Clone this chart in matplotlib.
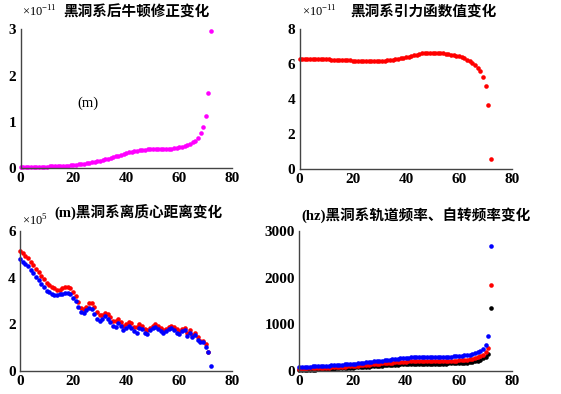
import numpy as np
import matplotlib
matplotlib.use("Agg")
import matplotlib.pyplot as plt

plt.rcParams['font.family'] = ['Liberation Serif', 'Noto Sans CJK SC']

x = np.arange(73)

# top-left: post-Newtonian correction (x1e-11)
pn_corr = [0.03, 0.03, 0.03, 0.03, 0.03, 0.03, 0.03, 0.03, 0.03, 0.03, 0.03,
           0.04, 0.04, 0.05, 0.05, 0.05, 0.06, 0.06, 0.06, 0.07, 0.08,
           0.08, 0.09, 0.10, 0.10, 0.11, 0.12, 0.13, 0.14, 0.15, 0.16,
           0.17, 0.19, 0.20, 0.22, 0.24, 0.26, 0.27, 0.29, 0.31, 0.33,
           0.35, 0.36, 0.37, 0.38, 0.39, 0.40, 0.40, 0.41, 0.41, 0.42,
           0.42, 0.42, 0.42, 0.42, 0.42, 0.42, 0.42, 0.43, 0.44, 0.45,
           0.46, 0.48, 0.50, 0.53, 0.56, 0.60,
           0.66, 0.76, 0.90, 1.13, 1.62, 2.97]

# top-right: gravitational function value (x1e-11)
grav = [6.30, 6.30, 6.30, 6.30, 6.30, 6.30, 6.30, 6.30, 6.29, 6.28, 6.27,
        6.26, 6.25, 6.25, 6.25, 6.25, 6.24, 6.23, 6.22, 6.21, 6.20,
        6.20, 6.20, 6.20, 6.20, 6.20, 6.20, 6.20, 6.20, 6.20, 6.20,
        6.20, 6.20, 6.21, 6.22, 6.24, 6.26, 6.29, 6.32, 6.35, 6.38,
        6.42, 6.46, 6.50, 6.54, 6.58, 6.61, 6.63, 6.64, 6.65, 6.65,
        6.65, 6.65, 6.64, 6.62, 6.60, 6.57, 6.54, 6.50, 6.47, 6.43,
        6.38, 6.32, 6.25, 6.16, 6.05, 5.93,
        5.80, 5.60, 5.28, 4.75, 3.65, 0.55]

# bottom-left: distance to barycentre (x1e5 m)
dist_red = [5.15, 5.05, 4.95, 4.85, 4.70, 4.55, 4.40, 4.25, 4.10, 3.95, 3.80,
            3.70, 3.60, 3.55, 3.50, 3.50, 3.55, 3.60, 3.60, 3.55, 3.40,
            3.20, 2.95, 2.70, 2.65, 2.75, 2.90, 2.90, 2.75, 2.55, 2.40,
            2.40, 2.50, 2.45, 2.30, 2.15, 2.15, 2.25, 2.10, 1.95, 2.00,
            2.10, 2.05, 1.90, 1.90, 2.00, 1.95, 1.80, 1.75, 1.85, 1.95,
            2.00, 1.95, 1.85, 1.75, 1.80, 1.90, 1.95, 1.90, 1.80, 1.70,
            1.80, 1.85, 1.65, 1.75, 1.55, 1.65,
            1.45, 1.30, 1.30, 1.15, 0.80, np.nan]
dist_blue = [4.80, 4.70, 4.60, 4.50, 4.35, 4.20, 4.05, 3.90, 3.75, 3.60, 3.45,
             3.40, 3.30, 3.25, 3.25, 3.30, 3.30, 3.35, 3.35, 3.30, 3.15,
             3.00, 2.75, 2.55, 2.50, 2.60, 2.70, 2.65, 2.45, 2.25, 2.15,
             2.25, 2.35, 2.25, 2.10, 1.95, 1.90, 2.05, 1.95, 1.75, 1.85,
             1.95, 1.85, 1.70, 1.65, 1.85, 1.80, 1.65, 1.60, 1.75, 1.85,
             1.90, 1.80, 1.70, 1.65, 1.70, 1.80, 1.85, 1.75, 1.65, 1.60,
             1.70, 1.75, 1.50, 1.65, 1.45, 1.55,
             1.35, 1.25, 1.25, 1.05, 0.80, 0.20]

# bottom-right: orbital / spin frequency (hz)
freq_blue = [90, 90, 92, 94, 96, 98, 100, 102, 104, 107, 110,
             114, 118, 122, 126, 130, 135, 140, 145, 150, 155,
             160, 166, 172, 178, 184, 190, 197, 204, 211, 218,
             225, 232, 239, 246, 253, 260, 267, 273, 279, 284,
             289, 293, 296, 298, 300, 301, 302, 302, 302, 302,
             302, 302, 303, 304, 305, 307, 309, 312, 315, 320,
             326, 333, 342, 352, 365, 380,
             400, 430, 480, 560, 750, 2680]
freq_red = [50, 50, 52, 54, 56, 58, 60, 62, 64, 67, 70,
            73, 76, 80, 84, 88, 92, 96, 100, 104, 108,
            112, 117, 122, 127, 132, 137, 142, 147, 152, 157,
            162, 167, 172, 177, 182, 186, 190, 194, 198, 201,
            204, 206, 208, 209, 210, 210, 211, 211, 211, 211,
            211, 211, 212, 213, 214, 215, 217, 219, 222, 226,
            230, 236, 243, 252, 262, 275,
            290, 315, 350, 410, 500, 1850]
freq_black = [20, 22, 24, 26, 28, 30, 32, 34, 36, 39, 42,
              45, 48, 51, 54, 57, 60, 63, 66, 69, 72,
              76, 80, 84, 88, 92, 96, 100, 104, 108, 112,
              116, 120, 124, 128, 132, 136, 139, 142, 145, 148,
              150, 152, 154, 155, 156, 157, 157, 157, 157, 157,
              157, 158, 158, 159, 160, 161, 162, 164, 166, 169,
              172, 176, 181, 187, 195, 205,
              220, 240, 270, 310, 370, 1340]

MAGENTA = '#ff00ff'
RED = '#ff0000'
BLUE = '#0000ff'
BLACK = '#000000'
MIXED = ['Liberation Serif', 'Noto Sans CJK SC']

fig = plt.figure(figsize=(5.61, 3.94), dpi=100)

def style(ax, ylim, yticks):
    ax.set_xlim(0, 80)
    ax.set_ylim(*ylim)
    ax.set_xticks([0, 20, 40, 60, 80])
    ax.set_yticks(yticks)
    for s in ['top', 'right']:
        ax.spines[s].set_visible(False)
    for s in ['left', 'bottom']:
        ax.spines[s].set_color('#444444')
        ax.spines[s].set_linewidth(1.0)
    ax.tick_params(length=0, labelsize=11, pad=3)
    for lab in ax.get_xticklabels() + ax.get_yticklabels():
        lab.set_fontweight('bold')
    ax.patch.set_alpha(0)

W, H = 561.0, 394.0
def rect(x0, x1, ytop, ybot):
    return [x0 / W, 1 - ybot / H, (x1 - x0) / W, (ybot - ytop) / H]

ms = 3.3

ax1 = fig.add_axes(rect(20.5, 232.3, 29.3, 168.3))
ax1.plot(x, pn_corr, 'o', color=MAGENTA, ms=ms, mew=0, clip_on=False)
style(ax1, (0, 3), [0, 1, 2, 3])
ax1.text(25.5, 1.4, '(m)', fontsize=10.5, ha='center', va='center')

ax2 = fig.add_axes(rect(299.5, 512.3, 29.0, 169.0))
ax2.plot(x, grav, 'o', color=RED, ms=ms, mew=0, clip_on=False)
style(ax2, (0, 8), [0, 2, 4, 6, 8])

ax3 = fig.add_axes(rect(20.0, 232.3, 231.3, 371.0))
ax3.plot(x, dist_red, 'o', color=RED, ms=ms, mew=0, clip_on=False)
ax3.plot(x, dist_blue, 'o', color=BLUE, ms=ms, mew=0, clip_on=False)
style(ax3, (0, 6), [0, 2, 4, 6])

ax4 = fig.add_axes(rect(299.3, 512.3, 231.0, 371.0))
ax4.plot(x, freq_black, 'o', color=BLACK, ms=ms, mew=0, clip_on=False)
ax4.plot(x, freq_red, 'o', color=RED, ms=ms, mew=0, clip_on=False)
ax4.plot(x, freq_blue, 'o', color=BLUE, ms=ms, mew=0, clip_on=False)
style(ax4, (0, 3000), [0, 1000, 2000, 3000])

# titles and multipliers
fig.text(22 / W, 1 - 12 / H, r'×10$^{\mathregular{-11}}$', fontsize=9, va='center', ha='left')
fig.text(137 / W, 1 - 12 / H, '黑洞系后牛顿修正变化', family=MIXED, fontsize=10.5,
         fontweight='bold', va='center', ha='center')
fig.text(302 / W, 1 - 12 / H, r'×10$^{\mathregular{-11}}$', fontsize=9, va='center', ha='left')
fig.text(424 / W, 1 - 12 / H, '黑洞系引力函数值变化', family=MIXED, fontsize=10.5,
         fontweight='bold', va='center', ha='center')
fig.text(22 / W, 1 - 221 / H, r'×10$^{\mathregular{5}}$', fontsize=9, va='center', ha='left')
fig.text(138 / W, 1 - 213 / H, '(m)黑洞系离质心距离变化', family=MIXED, fontsize=10.5,
         fontweight='bold', va='center', ha='center')
fig.text(416 / W, 1 - 215 / H, '(hz)黑洞系轨道频率、自转频率变化', family=MIXED, fontsize=10.5,
         fontweight='bold', va='center', ha='center')

fig.savefig('out.png', dpi=100)
